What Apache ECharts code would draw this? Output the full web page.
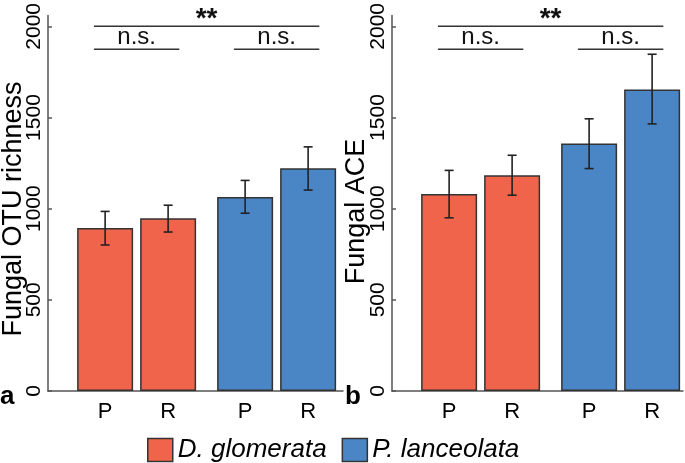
<!DOCTYPE html>
<html>
<head>
<meta charset="utf-8">
<script src="https://cdn.jsdelivr.net/npm/echarts@6/dist/echarts.min.js"></script>
<style>
  html, body { margin: 0; padding: 0; background: #fff; }
  #chart { width: 685px; height: 463px; }
</style>
</head>
<body>
<div id="chart"></div>
<script>
// ---------------- data ----------------
const categories = ['P', 'R', 'P', 'R'];
const species = ['D. glomerata', 'P. lanceolata'];
const speciesOfBar = [0, 0, 1, 1];

const richnessMean = [894, 948, 1064, 1222];
const richnessLow  = [801, 872, 975, 1102];
const richnessHigh = [985, 1019, 1155, 1339];

const aceMean = [1081, 1184, 1357, 1653];
const aceLow  = [950, 1074, 1220, 1465];
const aceHigh = [1210, 1293, 1493, 1847];

const yTicks = [0, 500, 1000, 1500, 2000];

const sigLabels = ['n.s.', 'n.s.', '**'];
const sigPairs = [[0, 1], [2, 3], [0, 3]];
const richnessSigLevel = [1875, 1875, 2000];
const aceSigLevel = [1875, 1875, 2000];

const panelTitles = ['Fungal OTU richness', 'Fungal ACE'];
const panelTags = ['a', 'b'];

// ---------------- layout / style ----------------
const FONT = "'Liberation Sans', Arial, Helvetica, sans-serif";
const colors = ['#EF644A', '#4A86C6'];
const barBorder = '#333333';
const axisColor = '#555555';
const unitPx = 56;              // px per x-unit
const barPos = i => 1.02 + Math.floor(i / 2) * 2.5 + (i % 2) * 1.125;
const centers = categories.map((_, i) => barPos(i));

const panels = [
  { mean: richnessMean, low: richnessLow, high: richnessHigh, sig: richnessSigLevel,
    grid: { left: 48, top: 13, width: 295, height: 378 } },
  { mean: aceMean, low: aceLow, high: aceHigh, sig: aceSigLevel,
    grid: { left: 392, top: 13, width: 291, height: 378 } }
];

const grids = [], xAxes = [], yAxes = [], series = [];

panels.forEach((p, k) => {
  grids.push(p.grid);
  xAxes.push({
    type: 'value', gridIndex: k, min: 0, max: p.grid.width / unitPx,
    splitLine: { show: false },
    axisLine: { show: true, onZero: false, lineStyle: { color: axisColor, width: 1.5 } },
    axisTick: { show: false },
    axisLabel: {
      customValues: centers,
      formatter: v => {
        const idx = centers.findIndex(c => Math.abs(c - v) < 1e-6);
        return idx >= 0 ? categories[idx] : '';
      },
      margin: 10, fontSize: 22, color: '#000', fontFamily: FONT
    }
  });
  yAxes.push({
    type: 'value', gridIndex: k, min: 0, max: 2060, interval: 500,
    splitLine: { show: false },
    axisLine: { show: true, lineStyle: { color: axisColor, width: 1.5 } },
    axisTick: { show: true, inside: true, length: 4, customValues: yTicks,
                lineStyle: { color: axisColor, width: 1.5 } },
    axisLabel: {
      customValues: yTicks, rotate: 90, margin: 3,
      formatter: v => String(v),
      fontSize: 21, color: '#000', fontFamily: FONT
    }
  });

  // bars, one series per species
  species.forEach((name, s) => {
    const data = [];
    p.mean.forEach((v, i) => { if (speciesOfBar[i] === s) data.push([centers[i], v]); });
    series.push({
      type: 'bar', name, xAxisIndex: k, yAxisIndex: k,
      barWidth: 56, barGap: '-100%',
      itemStyle: { color: colors[s], borderColor: barBorder, borderWidth: 1.5 },
      data, z: 2
    });
  });

  // error bars
  series.push({
    type: 'custom', xAxisIndex: k, yAxisIndex: k, z: 5,
    encode: { x: 0, y: [1, 2] },
    data: p.mean.map((_, i) => [centers[i], p.low[i], p.high[i]]),
    renderItem: (params, api) => {
      const top = api.coord([api.value(0), api.value(2)]);
      const bot = api.coord([api.value(0), api.value(1)]);
      const hw = 4.5;
      const st = { stroke: '#222', lineWidth: 1.6 };
      return { type: 'group', children: [
        { type: 'line', shape: { x1: top[0], y1: top[1], x2: bot[0], y2: bot[1] }, style: st },
        { type: 'line', shape: { x1: top[0] - hw, y1: top[1], x2: top[0] + hw, y2: top[1] }, style: st },
        { type: 'line', shape: { x1: bot[0] - hw, y1: bot[1], x2: bot[0] + hw, y2: bot[1] }, style: st }
      ]};
    }
  });

  // significance brackets
  series.push({
    type: 'custom', xAxisIndex: k, yAxisIndex: k, z: 5, clip: false,
    encode: { x: [0, 1], y: 2 },
    data: sigPairs.map((pr, j) => [centers[pr[0]] - 0.2, centers[pr[1]] + 0.2, p.sig[j], j]),
    renderItem: (params, api) => {
      const a = api.coord([api.value(0), api.value(2)]);
      const b = api.coord([api.value(1), api.value(2)]);
      const lab = sigLabels[api.value(3)];
      const bold = lab.indexOf('*') >= 0;
      return { type: 'group', children: [
        { type: 'line', shape: { x1: a[0], y1: a[1], x2: b[0], y2: b[1] },
          style: { stroke: '#333', lineWidth: 1.5 } },
        { type: 'text', style: {
            text: lab, x: (a[0] + b[0]) / 2, y: bold ? a[1] - 7 : a[1] - 12,
            align: 'center', verticalAlign: 'middle',
            font: (bold ? 'bold 28px ' : '24px ') + FONT, fill: '#111' } }
      ]};
    }
  });
});

const graphics = [
  { type: 'text', x: 13.5, y: 209, rotation: Math.PI / 2,
    style: { text: panelTitles[0], font: '27px ' + FONT, fill: '#000', align: 'center', verticalAlign: 'middle' } },
  { type: 'text', x: 357, y: 211.5, rotation: Math.PI / 2,
    style: { text: panelTitles[1], font: '27px ' + FONT, fill: '#000', align: 'center', verticalAlign: 'middle' } },
  { type: 'text', x: 0, y: 397,
    style: { text: panelTags[0], font: 'bold 26px ' + FONT, fill: '#000', align: 'left', verticalAlign: 'middle' } },
  { type: 'text', x: 345, y: 397,
    style: { text: panelTags[1], font: 'bold 26px ' + FONT, fill: '#000', align: 'left', verticalAlign: 'middle' } }
];

const chart = echarts.init(document.getElementById('chart'), null, { renderer: 'canvas' });
chart.setOption({
  animation: false,
  backgroundColor: '#fff',
  grid: grids,
  xAxis: xAxes,
  yAxis: yAxes,
  legend: {
    data: species, left: 147, top: 437, padding: 0,
    itemWidth: 25, itemHeight: 23, itemGap: 15, icon: 'rect',
    itemStyle: { borderColor: barBorder, borderWidth: 1.5 },
    textStyle: { fontSize: 26, fontStyle: 'italic', color: '#000', fontFamily: FONT },
    selectedMode: false
  },
  graphic: graphics,
  series
});
</script>
</body>
</html>
